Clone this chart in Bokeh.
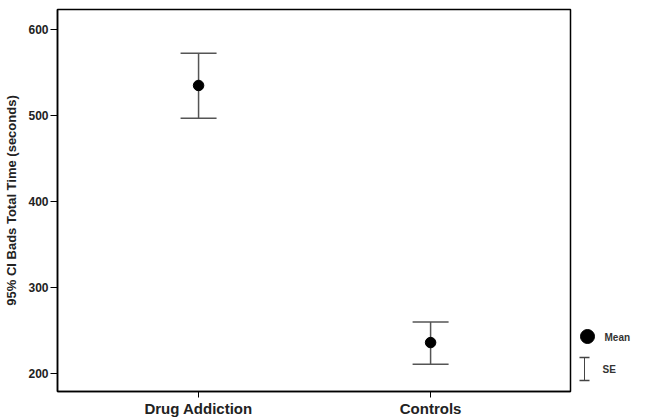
from bokeh.plotting import figure
from bokeh.models import Range1d, FixedTicker, Whisker, ColumnDataSource, TeeHead
from bokeh.layouts import row
from bokeh.embed import file_html
from bokeh.resources import INLINE
from bokeh.core.properties import value

# ---- data ----
groups = ["Drug Addiction", "Controls"]
group_pos = [1, 2]
means = [534.7, 235.9]
upper = [572.2, 259.8]
lower = [496.5, 210.8]
y_ticks = [200, 300, 400, 500, 600]

FONT = "Liberation Sans"

src = ColumnDataSource(dict(x=group_pos, mean=means, upper=upper, lower=lower))

p = figure(width=572, height=419, output_backend="svg", toolbar_location=None,
           x_range=Range1d(0.392, 2.603), y_range=Range1d(179, 623),
           min_border_left=57, min_border_right=2, min_border_top=9, min_border_bottom=26)
p.grid.visible = False
p.outline_line_color = "black"
p.outline_line_width = 1.5
p.background_fill_color = "white"
p.border_fill_color = "white"

# whiskers (SE)
wh = Whisker(source=src, base="x", upper="upper", lower="lower",
             line_color="#555555", line_width=1.5,
             upper_head=TeeHead(size=36, line_color="#555555", line_width=1.5),
             lower_head=TeeHead(size=36, line_color="#555555", line_width=1.5))
p.add_layout(wh)
p.scatter("x", "mean", source=src, size=10.5, color="black")

# x axis
p.xaxis.ticker = FixedTicker(ticks=group_pos)
p.xaxis.major_label_overrides = {pos: g for pos, g in zip(group_pos, groups)}
p.xaxis.minor_tick_line_color = None
p.xaxis.major_tick_in = 0
p.xaxis.major_tick_out = 6
p.xaxis.major_label_standoff = 2
p.xaxis.major_label_text_font = FONT
p.xaxis.major_label_text_font_style = "bold"
p.xaxis.major_label_text_font_size = "15px"
p.xaxis.major_label_text_color = "#222222"
p.xaxis.axis_line_color = "black"
p.xaxis.axis_line_width = 1.5

# y axis
p.yaxis.ticker = FixedTicker(ticks=y_ticks)
p.yaxis.minor_tick_line_color = None
p.yaxis.major_tick_in = 0
p.yaxis.major_tick_out = 7
p.yaxis.major_label_standoff = 2
p.yaxis.major_label_text_font = FONT
p.yaxis.major_label_text_font_style = "bold"
p.yaxis.major_label_text_font_size = "12px"
p.yaxis.major_label_text_color = "#222222"
p.yaxis.axis_label = "95% CI Bads Total Time (seconds)"
p.yaxis.axis_label_text_font = FONT
p.yaxis.axis_label_text_font_style = "bold"
p.yaxis.axis_label_text_font_size = "13px"
p.yaxis.axis_label_text_color = "#222222"
p.yaxis.axis_label_standoff = 6
p.yaxis.axis_line_color = "black"
p.yaxis.axis_line_width = 1.5

# ---- legend panel ----
leg = figure(frame_width=75, frame_height=419, output_backend="svg", toolbar_location=None,
             x_range=Range1d(0, 75), y_range=Range1d(419, 0),
             x_axis_type=None, y_axis_type=None, min_border=0)
leg.grid.visible = False
leg.outline_line_color = None
leg.scatter([15], [327], size=14, color="black")
leg.text([32], [328], text=["Mean"], text_font=value(FONT), text_font_style="bold",
         text_font_size="10px", text_baseline="middle", text_color="#333333")
leg.segment([12], [348], [12], [371], line_color="#444444", line_width=1)
leg.segment([7, 7], [348, 371], [17, 17], [348, 371], line_color="#444444", line_width=1.5)
leg.text([30], [360], text=["SE"], text_font=value(FONT), text_font_style="bold",
         text_font_size="10px", text_baseline="middle", text_color="#333333")

layout = row(p, leg)
open("out.html", "w").write(file_html(layout, INLINE))
